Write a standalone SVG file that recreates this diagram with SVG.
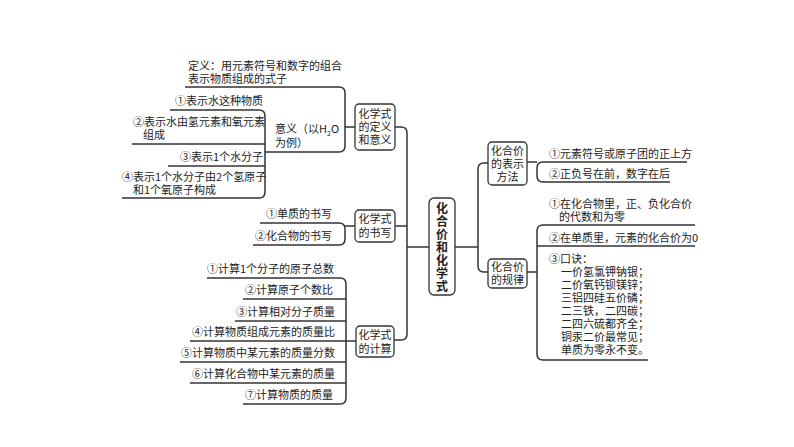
<svg xmlns="http://www.w3.org/2000/svg" width="794" height="447" viewBox="0 0 794 447">
<style>
text{font-family:"Noto Sans CJK SC","Liberation Serif",serif;font-size:11px;fill:#222}
.n rect{fill:#fff;stroke:#333;stroke-width:1.3}
.c path{fill:none;stroke:#333;stroke-width:1.5}
.m text{text-anchor:middle}
.big{font-size:12px;font-weight:bold}
</style>
<rect width="794" height="447" fill="#fff"/>
<g class="c" id="connectors">
<path d="M429,247H407"/>
<path d="M355,127H401Q407,127 407,133V334Q407,340 401,340H394"/>
<path d="M395,226H407"/>
<path d="M455,247H478"/>
<path d="M488,163H484Q478,163 478,169V266Q478,272 484,272H488"/>
<path d="M185,87H339Q345,87 345,93V146Q345,152 339,152H265"/>
<path d="M345,127H355"/>
<path d="M170,110H259Q265,110 265,116V192Q265,198 259,198H122"/>
<path d="M132,144H265"/><path d="M168,166H265"/>
<path d="M260,223H339Q345,223 345,229V239Q345,245 339,245H253"/>
<path d="M345,226H355"/>
<path d="M207,278H340Q346,278 346,284V398Q346,404 340,404H243"/>
<path d="M243,299H346"/><path d="M235,321H346"/><path d="M190,341H356"/><path d="M180,362H346"/><path d="M190,383H346"/>
<path d="M687,162H543Q537,162 537,168V176Q537,182 543,182H670"/>
<path d="M527,162H537"/>
<path d="M695,225H543Q537,225 537,231V354Q537,360 543,360H648"/>
<path d="M537,246H695"/>
<path d="M527,272H537"/>
</g>
<g id="center" class="n m"><rect x="429" y="198" width="26" height="97" rx="5"/>
<text class="big"><tspan x="442" y="213">化</tspan><tspan x="442" y="226">合</tspan><tspan x="442" y="239">价</tspan><tspan x="442" y="252">和</tspan><tspan x="442" y="265">化</tspan><tspan x="442" y="278">学</tspan><tspan x="442" y="291">式</tspan></text></g>
<g id="n1" class="n m"><rect x="355" y="104" width="40" height="46" rx="4"/><text><tspan x="375" y="118">化学式</tspan><tspan x="375" y="131">的定义</tspan><tspan x="375" y="144">和意义</tspan></text></g>
<g id="n2" class="n m"><rect x="355" y="210" width="40" height="32" rx="4"/><text><tspan x="375" y="223">化学式</tspan><tspan x="375" y="237">的书写</tspan></text></g>
<g id="n3" class="n m"><rect x="356" y="326" width="38" height="31" rx="4"/><text><tspan x="375" y="339">化学式</tspan><tspan x="375" y="353">的计算</tspan></text></g>
<g id="n4" class="n m"><rect x="488" y="142" width="39" height="43" rx="4"/><text><tspan x="507.5" y="155">化合价</tspan><tspan x="507.5" y="168">的表示</tspan><tspan x="507.5" y="181">方法</tspan></text></g>
<g id="n5" class="n m"><rect x="488" y="259" width="39" height="29" rx="4"/><text><tspan x="507.5" y="271">化合价</tspan><tspan x="507.5" y="284">的规律</tspan></text></g>
<g id="labels">
<text x="188" y="70">定义：用元素符号和数字的组合</text>
<text x="188" y="83">表示物质组成的式子</text>
<text x="175" y="105">①表示水这种物质</text>
<text x="133" y="126">②表示水由氢元素和氧元素</text>
<text x="143" y="139">组成</text>
<text x="180" y="161">③表示1个水分子</text>
<text x="122" y="181">④表示1个水分子由2个氢原子</text>
<text x="133" y="194">和1个氧原子构成</text>
<text x="275" y="133">意义（以H<tspan style="font-size:7px" dy="3">2</tspan><tspan dy="-3">O</tspan></text>
<text x="275" y="147">为例）</text>
<text x="266" y="218">①单质的书写</text>
<text x="255" y="240">②化合物的书写</text>
<text x="207" y="273">①计算1个分子的原子总数</text>
<text x="245" y="294">②计算原子个数比</text>
<text x="236" y="316">③计算相对分子质量</text>
<text x="192" y="336">④计算物质组成元素的质量比</text>
<text x="181" y="357">⑤计算物质中某元素的质量分数</text>
<text x="192" y="378">⑥计算化合物中某元素的质量</text>
<text x="245" y="399">⑦计算物质的质量</text>
<text x="549" y="158">①元素符号或原子团的正上方</text>
<text x="549" y="178">②正负号在前，数字在后</text>
<text x="549" y="208">①在化合物里，正、负化合价</text>
<text x="559" y="221">的代数和为零</text>
<text x="549" y="242">②在单质里，元素的化合价为0</text>
<text x="549" y="263">③口诀：</text>
<text x="561" y="276">一价氢氯钾钠银；</text>
<text x="561" y="289">二价氧钙钡镁锌；</text>
<text x="561" y="302">三铝四硅五价磷；</text>
<text x="561" y="315">二三铁，二四碳；</text>
<text x="561" y="328">二四六硫都齐全；</text>
<text x="561" y="341">铜汞二价最常见；</text>
<text x="561" y="354">单质为零永不变。</text>
</g>
</svg>
